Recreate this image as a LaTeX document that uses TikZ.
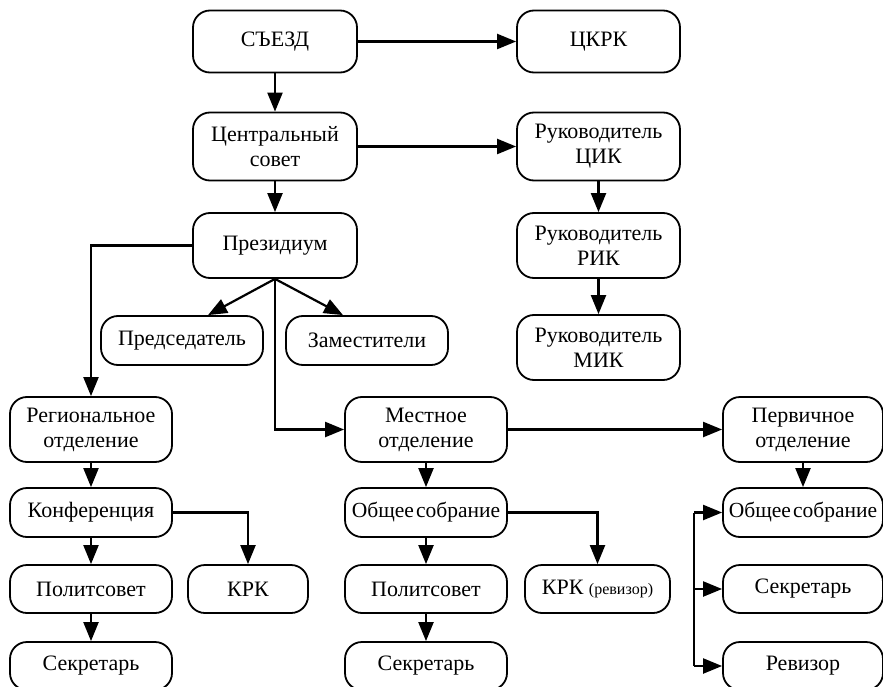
\documentclass[tikz,border=0pt]{standalone}
\usepackage{fontspec}
\setmainfont{Liberation Serif}
\usetikzlibrary{arrows.meta}

\begin{document}
\begin{tikzpicture}[x=1pt, y=-1pt,
    box/.style={draw, line width=1.8pt, rounded corners=17pt, align=center,
        inner sep=2pt, font=\fontsize{22}{25}\selectfont},
    tight/.style={font=\fontsize{21.5}{25}\selectfont},
    arr/.style={line width=2.2pt, -{Triangle[length=19pt,width=15pt]}}]
                \useasboundingbox (0,0) rectangle (883,687);
                % top part
                \node[box, minimum width=164pt, minimum height=62pt] (sezd) at (275,41.5) {СЪЕЗД};
                \node[box, minimum width=163pt, minimum height=62pt] (ckrk) at (598.5,41.5) {ЦКРК};
                \node[box, minimum width=164pt, minimum height=68pt] (centr) at (275,146.5) {Центральный\\совет};
                \node[box, minimum width=163pt, minimum height=68pt] (cik) at (598.5,146.5) {Руководитель\\ЦИК};
                \node[box, minimum width=164pt, minimum height=65pt] (pres) at (275,245.5) {Президиум};
                \node[box, minimum width=163pt, minimum height=65pt] (rik) at (598.5,245.5) {Руководитель\\РИК};
                \node[box, minimum width=163pt, minimum height=65pt] (mik) at (598.5,347.5) {Руководитель\\МИК};
                \node[box, minimum width=162pt, minimum height=49pt] (pred) at (182,340.5) {Председатель};
                \node[box, minimum width=162pt, minimum height=49pt] (zam) at (367,340.5) {Заместители};
                % regional
                \node[box, minimum width=162pt, minimum height=65pt] (reg) at (91,429.5) {Региональное\\отделение};
                \node[box, minimum width=162pt, minimum height=49pt] (konf) at (91,512.5) {Конференция};
                \node[box, minimum width=162pt, minimum height=48pt] (pol1) at (91,589) {Политсовет};
                \node[box, minimum width=162pt, minimum height=48pt] (sek1) at (91,666) {Секретарь};
                \node[box, minimum width=120pt, minimum height=48pt] (krk1) at (248,589) {КРК};
                % local
                \node[box, minimum width=162pt, minimum height=65pt] (mest) at (426,429.5) {Местное\\отделение};
                \node[box, tight, minimum width=162pt, minimum height=49pt] (obs2) at (426,512.5) {Общее\hspace{0.1em}собрание};
                \node[box, minimum width=162pt, minimum height=48pt] (pol2) at (426,589) {Политсовет};
                \node[box, minimum width=162pt, minimum height=48pt] (sek2) at (426,666) {Секретарь};
                \node[box, minimum width=145pt, minimum height=48pt] (krk2) at (597.5,589) {КРК {\fontsize{16}{18}\selectfont(ревизор)}};
                % primary
                \node[box, minimum width=160pt, minimum height=65pt] (perv) at (803,429.5) {Первичное\\отделение};
                \node[box, tight, minimum width=160pt, minimum height=49pt] (obs3) at (803,512.5) {Общее\hspace{0.1em}собрание};
                \node[box, minimum width=160pt, minimum height=48pt] (sek3) at (803,589) {Секретарь};
                \node[box, minimum width=160pt, minimum height=48pt] (rev) at (803,666) {Ревизор};
                \coordinate (brtop) at (694,512.5);
                \coordinate (brbot) at (694,666);

                \draw[arr] (sezd) -- (ckrk);
                \draw[arr] (sezd) -- (centr);
                \draw[arr] (centr) -- (cik);
                \draw[arr] (centr) -- (pres);
                \draw[arr] (cik) -- (rik);
                \draw[arr] (rik) -- (mik);
                \draw[arr] (pres.south) -- ([xshift=26pt]pred.north);
                \draw[arr] (pres.south) -- ([xshift=-24pt]zam.north);
                \draw[arr] (pres.west) -| (reg.north);
                \draw[arr] (pres.south) |- (mest.west);
                \draw[arr] (mest) -- (perv);
                \draw[arr] (reg) -- (konf);
                \draw[arr] (konf) -- (pol1);
                \draw[arr] (pol1) -- (sek1);
                \draw[arr] (konf.east) -| (krk1.north);
                \draw[arr] (mest) -- (obs2);
                \draw[arr] (obs2) -- (pol2);
                \draw[arr] (pol2) -- (sek2);
                \draw[arr] (obs2.east) -| (krk2.north);
                \draw[arr] (perv) -- (obs3);
                \draw[line width=2.2pt] (brtop) -- (brbot);
                \draw[arr] (brtop) -- (obs3.west);
                \draw[arr] (brtop |- sek3.west) -- (sek3.west);
                \draw[arr] (brbot) -- (rev.west);
                % \draw (0,0) grid (883,687);
            \end{tikzpicture}
\end{document}
